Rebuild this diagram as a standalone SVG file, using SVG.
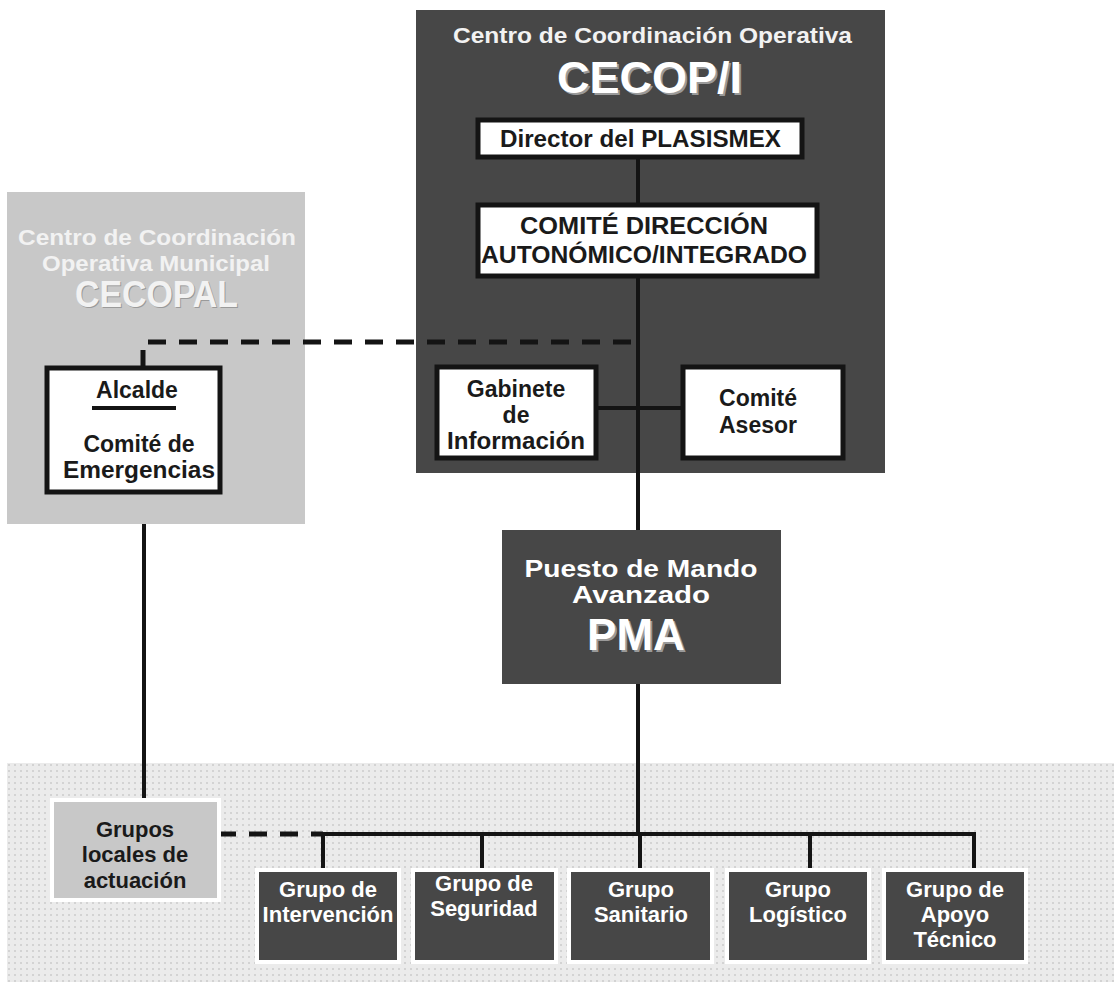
<svg xmlns="http://www.w3.org/2000/svg" width="1114" height="982" viewBox="0 0 1114 982">
<defs>
<pattern id="dots" x="0" y="0" width="6" height="6" patternUnits="userSpaceOnUse">
<rect width="6" height="6" fill="#ebebeb"/>
<circle cx="3" cy="3" r="1" fill="#cccccc"/>
</pattern>
<style>
.t{font-family:"Liberation Sans",Arial,sans-serif;font-weight:bold}
.blk{fill:#1a1a1a}
.wht{fill:#ffffff}
.ttl{fill:#f2f2f2}
.shadow{fill:#9a9a9a}
.dark{fill:#474747}
.wbox{fill:#ffffff;stroke:#141414;stroke-width:5}
.grp{fill:#474747;stroke:#ffffff;stroke-width:4}
.line{fill:none;stroke:#141414;stroke-width:4}
.dash{fill:none;stroke:#141414;stroke-width:5;stroke-dasharray:18 13}
</style>
</defs>
<rect width="1114" height="982" fill="#ffffff"/>

<g id="cecop">
<rect x="416" y="10" width="469" height="463" class="dark"/>
<text class="t ttl" x="453" y="43" font-size="22" textLength="399" lengthAdjust="spacingAndGlyphs">Centro de Coordinación Operativa</text>
<text class="t shadow" x="559" y="95" font-size="44" textLength="185" lengthAdjust="spacingAndGlyphs">CECOP/I</text>
<text class="t wht" x="557" y="93" font-size="44" textLength="185" lengthAdjust="spacingAndGlyphs">CECOP/I</text>
</g>

<g id="cecopal">
<rect x="7" y="192" width="298" height="332" fill="#c8c8c8"/>
<text class="t ttl" x="18" y="245" font-size="22" textLength="278" lengthAdjust="spacingAndGlyphs">Centro de Coordinación</text>
<text class="t ttl" x="42" y="271" font-size="22" textLength="228" lengthAdjust="spacingAndGlyphs">Operativa Municipal</text>
<text class="t shadow" x="76" y="308" font-size="36" textLength="163" lengthAdjust="spacingAndGlyphs">CECOPAL</text>
<text class="t ttl" x="75" y="307" font-size="36" textLength="163" lengthAdjust="spacingAndGlyphs">CECOPAL</text>
</g>

<g id="zona-grupos">
<rect x="7" y="763" width="1107" height="219" fill="url(#dots)"/>
</g>

<g id="connectors">
<path class="line" d="M638 157 V530"/>
<path class="line" d="M596 408 H682"/>
<path class="dash" d="M143 368 V342 H638"/>
<path class="line" d="M144 524 V800"/>
<path class="line" d="M638 684 V834"/>
<path class="line" d="M323 870 V834 H974 V870"/>
<path class="line" d="M482 834 V870"/>
<path class="line" d="M640 834 V870"/>
<path class="line" d="M810 834 V870"/>
<path class="dash" d="M218 834 H323"/>
</g>

<g id="director">
<rect x="478" y="120" width="324" height="37" class="wbox"/>
<text class="t blk" x="500" y="147" font-size="23" textLength="281" lengthAdjust="spacingAndGlyphs">Director del PLASISMEX</text>
</g>

<g id="comite-direccion">
<rect x="478" y="205" width="339" height="71" class="wbox"/>
<text class="t blk" x="520" y="234" font-size="23" textLength="248" lengthAdjust="spacingAndGlyphs">COMITÉ DIRECCIÓN</text>
<text class="t blk" x="481" y="263" font-size="23" textLength="326" lengthAdjust="spacingAndGlyphs">AUTONÓMICO/INTEGRADO</text>
</g>

<g id="gabinete">
<rect x="437" y="367" width="159" height="91" class="wbox"/>
<text class="t blk" x="516" y="397" font-size="23" text-anchor="middle">Gabinete</text>
<text class="t blk" x="516" y="423" font-size="23" text-anchor="middle">de</text>
<text class="t blk" x="516" y="449" font-size="23" text-anchor="middle" textLength="138" lengthAdjust="spacingAndGlyphs">Información</text>
</g>

<g id="comite-asesor">
<rect x="683" y="367" width="160" height="91" class="wbox"/>
<text class="t blk" x="758" y="406" font-size="23" text-anchor="middle">Comité</text>
<text class="t blk" x="758" y="433" font-size="23" text-anchor="middle">Asesor</text>
</g>

<g id="alcalde">
<rect x="47" y="368" width="173" height="124" class="wbox"/>
<text class="t blk" x="137" y="398" font-size="23" text-anchor="middle">Alcalde</text>
<rect x="92" y="406" width="84" height="4" fill="#141414"/>
<text class="t blk" x="139" y="452" font-size="23" text-anchor="middle">Comité de</text>
<text class="t blk" x="139" y="478" font-size="23" text-anchor="middle" textLength="152" lengthAdjust="spacingAndGlyphs">Emergencias</text>
</g>

<g id="pma">
<rect x="502" y="530" width="279" height="154" class="dark"/>
<text class="t wht" x="641" y="577" font-size="23" text-anchor="middle" textLength="233" lengthAdjust="spacingAndGlyphs">Puesto de Mando</text>
<text class="t wht" x="641" y="603" font-size="23" text-anchor="middle" textLength="138" lengthAdjust="spacingAndGlyphs">Avanzado</text>
<text class="t shadow" x="638" y="652" font-size="44" text-anchor="middle">PMA</text>
<text class="t wht" x="636" y="650" font-size="44" text-anchor="middle">PMA</text>
</g>

<g id="grupos-locales">
<rect x="52" y="800" width="167" height="100" fill="#c8c8c8" stroke="#ffffff" stroke-width="4"/>
<text class="t blk" x="135" y="837" font-size="22" text-anchor="middle">Grupos</text>
<text class="t blk" x="135" y="862" font-size="22" text-anchor="middle">locales de</text>
<text class="t blk" x="135" y="888" font-size="22" text-anchor="middle">actuación</text>
</g>

<g id="g-intervencion">
<rect x="257" y="870" width="142" height="92" class="grp"/>
<text class="t wht" x="328" y="897" font-size="22" text-anchor="middle">Grupo de</text>
<text class="t wht" x="328" y="922" font-size="22" text-anchor="middle">Intervención</text>
</g>

<g id="g-seguridad">
<rect x="413" y="870" width="143" height="92" class="grp"/>
<text class="t wht" x="484" y="891" font-size="22" text-anchor="middle">Grupo de</text>
<text class="t wht" x="484" y="916" font-size="22" text-anchor="middle">Seguridad</text>
</g>

<g id="g-sanitario">
<rect x="569" y="870" width="143" height="92" class="grp"/>
<text class="t wht" x="641" y="897" font-size="22" text-anchor="middle">Grupo</text>
<text class="t wht" x="641" y="922" font-size="22" text-anchor="middle">Sanitario</text>
</g>

<g id="g-logistico">
<rect x="727" y="870" width="142" height="92" class="grp"/>
<text class="t wht" x="798" y="897" font-size="22" text-anchor="middle">Grupo</text>
<text class="t wht" x="798" y="922" font-size="22" text-anchor="middle">Logístico</text>
</g>

<g id="g-apoyo">
<rect x="884" y="870" width="142" height="92" class="grp"/>
<text class="t wht" x="955" y="897" font-size="22" text-anchor="middle">Grupo de</text>
<text class="t wht" x="955" y="922" font-size="22" text-anchor="middle">Apoyo</text>
<text class="t wht" x="955" y="947" font-size="22" text-anchor="middle">Técnico</text>
</g>
</svg>
